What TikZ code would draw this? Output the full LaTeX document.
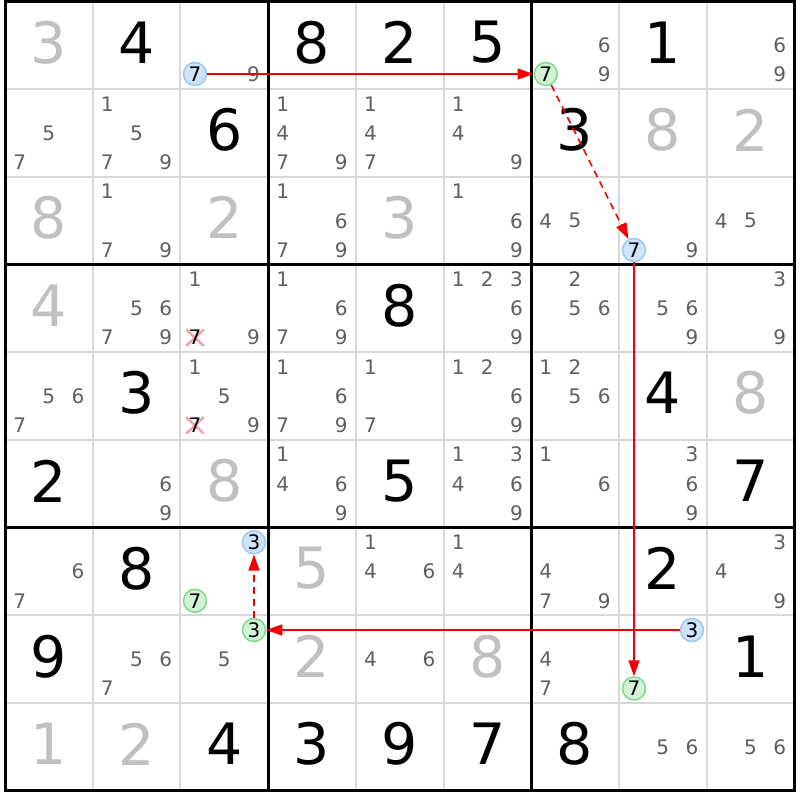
\documentclass[tikz,border=0pt]{standalone}
\usepackage{fontspec}
\setmainfont{DejaVu Sans}
\usetikzlibrary{arrows.meta,shapes.misc}
\definecolor{candgray}{HTML}{5F5F5F}
\definecolor{solvedgray}{HTML}{C0C0C0}
\definecolor{gridgray}{HTML}{D8D8D8}
\definecolor{bluefill}{HTML}{CFE3FA}
\definecolor{blueline}{HTML}{9DC8F2}
\definecolor{greenfill}{HTML}{D2F2D6}
\definecolor{greenline}{HTML}{80D890}
\definecolor{xpink}{HTML}{F4A0A8}
\definecolor{linkred}{HTML}{F00000}
\tikzset{
  given/.style={font=\fontsize{57}{57}\selectfont, text=black, inner sep=0pt, yshift=3pt},
  solved/.style={given, text=solvedgray},
  cand/.style={font=\fontsize{20}{20}\selectfont, text=candgray, inner sep=0pt},
  bluec/.style={circle, draw=blueline, fill=bluefill, line width=1.5pt, minimum size=23pt, inner sep=0pt, text=black, font=\fontsize{20}{20}\selectfont},
  greenc/.style={bluec, draw=greenline, fill=greenfill},
  xmark/.style={cross out, draw=xpink, line width=2.5pt, minimum width=15pt, minimum height=14pt, inner sep=0pt},
  link/.style={draw=linkred, line width=1.6pt, -{Triangle[length=16pt,width=11pt]}},
  weak/.style={link, dash pattern=on 7pt off 5pt},
  thin grid/.style={draw=gridgray, line width=2pt},
  thick grid/.style={draw=black, line width=3pt}
}
\begin{document}
\begin{tikzpicture}[x=1pt,y=-1pt]
\useasboundingbox (0,0) rectangle (800,800);
\fill[white] (0,0) rectangle (800,800);
% grid
\foreach \i in {1,2,4,5,7,8} {
  \draw[thin grid] ({5+87.7*\i},1.5) -- ({5+87.7*\i},790.8);
  \draw[thin grid] (5,{1.5+87.7*\i}) -- (794.3,{1.5+87.7*\i});
}
\foreach \i in {0,3,6,9} {
  \draw[thick grid] ({5+87.7*\i},0) -- ({5+87.7*\i},792.3);
  \draw[thick grid] (3.5,{1.5+87.7*\i}) -- (795.8,{1.5+87.7*\i});
}
% eliminations
\node[xmark] (x1) at (195.0,337.7) {};
\node[xmark] (x2) at (195.0,425.4) {};
% given digits
\foreach \r/\c/\d in {0/1/4,0/3/8,0/4/2,0/5/5,0/7/1,1/2/6,1/6/3,3/4/8,4/1/3,4/7/4,
  5/0/2,5/4/5,5/8/7,6/1/8,6/7/2,7/0/9,7/8/1,8/2/4,8/3/3,8/4/9,8/5/7,8/6/8}
  \node[given] (g-\r-\c) at ({5+87.7*(\c+0.5)},{1.5+87.7*(\r+0.5)}) {\d};
% solved digits
\foreach \r/\c/\d in {0/0/3,1/7/8,1/8/2,2/0/8,2/2/2,2/4/3,3/0/4,4/8/8,5/2/8,6/3/5,
  7/3/2,7/5/8,8/0/1,8/1/2}
  \node[solved] (s-\r-\c) at ({5+87.7*(\c+0.5)},{1.5+87.7*(\r+0.5)}) {\d};
% candidates
\foreach \r/\c/\ds in {0/2/{9},0/6/{6,9},0/8/{6,9},1/0/{5,7},1/1/{1,5,7,9},
  1/3/{1,4,7,9},1/4/{1,4,7},1/5/{1,4,9},2/1/{1,7,9},2/3/{1,6,7,9},2/5/{1,6,9},
  2/6/{4,5},2/7/{9},2/8/{4,5},3/1/{5,6,7,9},3/2/{1,9},3/3/{1,6,7,9},
  3/5/{1,2,3,6,9},3/6/{2,5,6},3/7/{5,6,9},3/8/{3,9},4/0/{5,6,7},4/2/{1,5,9},
  4/3/{1,6,7,9},4/4/{1,7},4/5/{1,2,6,9},4/6/{1,2,5,6},5/1/{6,9},5/3/{1,4,6,9},
  5/5/{1,3,4,6,9},5/6/{1,6},5/7/{3,6,9},6/0/{6,7},6/4/{1,4,6},6/5/{1,4},
  6/6/{4,7,9},6/8/{3,4,9},7/1/{5,6,7},7/2/{5},7/4/{4,6},7/6/{4,7},8/7/{5,6},8/8/{5,6}} {
  \foreach \d in \ds {
    \pgfmathsetmacro\cx{5+87.7*\c+87.7/3*(mod(\d-1,3)+0.5)}
    \pgfmathsetmacro\cy{1.5+87.7*\r+87.7/3*(floor((\d-1)/3)+0.5)}
    \node[cand] (c-\r-\c-\d) at (\cx,\cy) {\d};
  }
}
% crossed-out candidates
\node[cand, text=black] (c-3-2-7) at (x1) {7};
\node[cand, text=black] (c-4-2-7) at (x2) {7};
% chain candidates
\node[bluec]  (a) at (195.0,74.0) {7};
\node[greenc] (b) at (545.8,74.0) {7};
\node[bluec]  (c) at (634.0,250.0) {7};
\node[greenc] (d) at (634.0,688.5) {7};
\node[bluec]  (e) at (692.0,630.0) {3};
\node[greenc] (f) at (254.0,630.0) {3};
\node[bluec]  (g) at (254.0,542.3) {3};
\node[greenc] (h) at (195.0,600.8) {7};
% links
\draw[link] (a) -- (b);
\draw[weak] (b) -- (c);
\draw[link] (c) -- (d);
\draw[link] (e) -- (f);
\draw[weak] (f) -- (g);
\end{tikzpicture}
\end{document}
